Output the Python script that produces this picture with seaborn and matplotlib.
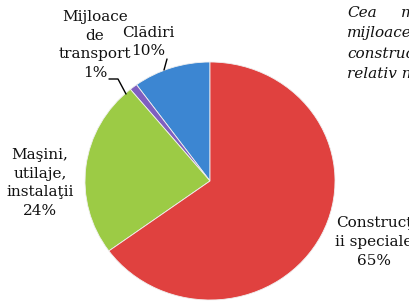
import seaborn as sns
import matplotlib.pyplot as plt
from matplotlib.lines import Line2D

# Data
categories = ['Clădiri', 'Mijloace\nde\ntransport', 'Maşini,\nutilaje,\ninstalaţii', 'Construcţ\nii speciale']
shares = [10, 1, 24, 65]
colors = ['#3c86d2', '#7f5fc0', '#9ccb45', '#e0413f']

sns.set_theme(style='white')
plt.rcParams['font.family'] = ['DejaVu Serif']

W, H = 410, 305
fig = plt.figure(figsize=(W / 100, H / 100), dpi=100)

def fx(x):
    return x / W

def fy(y):
    return 1 - y / H

# pie box in picture pixels
ax = fig.add_axes([fx(85), fy(300), fx(335) - fx(85), fy(62) - fy(300)])
ax.pie(shares, colors=colors, startangle=90, counterclock=True,
       wedgeprops={'edgecolor': '#f0f0f0', 'linewidth': 0.6})
ax.set_aspect('auto')
ax.set_xlim(-1, 1)
ax.set_ylim(-1, 1)
ax.axis('off')

# Labels
label_pos = [(148, 42), (95, 45), (40, 183), (374, 242)]
for name, val, (x, y) in zip(categories, shares, label_pos):
    fig.text(fx(x), fy(y), f'{name}\n{val}%', ha='center', va='center',
             multialignment='center', fontsize=11, linespacing=1.42, color='#111111')

# Leader lines
fig.add_artist(Line2D([fx(109), fx(118), fx(126)], [fy(79), fy(79), fy(94)],
                      transform=fig.transFigure, color='black', lw=1))
fig.add_artist(Line2D([fx(167), fx(164)], [fy(59), fy(70)],
                      transform=fig.transFigure, color='black', lw=1))

# Cut-off paragraph on the right side of the page
para = ['Cea', 'mijloacelor', 'construcţiilor', 'relativ noi']
for i, line in enumerate(para):
    fig.text(fx(347), fy(13 + 20.5 * i), line, ha='left', va='center',
             fontsize=11, style='italic', color='#111111')
fig.text(fx(401), fy(13), 'mai', ha='left', va='center',
         fontsize=11, style='italic', color='#111111')

fig.savefig('out.png', dpi=100)
